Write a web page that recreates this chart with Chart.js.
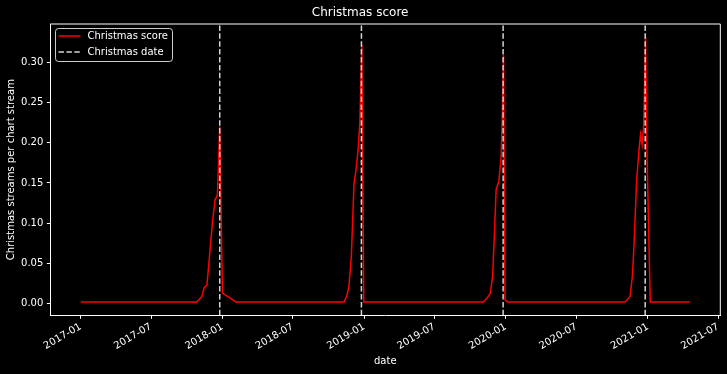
<!DOCTYPE html>
<html>
<head>
<meta charset="utf-8">
<title>Christmas score</title>
<script src="https://cdn.jsdelivr.net/npm/chart.js@4.4.0/dist/chart.umd.min.js"></script>
<style>
  html, body { margin: 0; padding: 0; background: #000; }
  #wrap { width: 727px; height: 374px; }
</style>
</head>
<body>
<div id="wrap"><canvas id="christmasChart" width="727" height="374"></canvas></div>
<script>
// Christmas score series
const scoreDates = [
    '2017-01-01', '2017-10-27', '2017-11-09', '2017-11-15', '2017-11-22', '2017-11-28',
    '2017-12-06', '2017-12-13', '2017-12-19', '2017-12-25', '2018-01-01', '2018-01-14',
    '2018-01-27', '2018-02-04',
    '2018-11-10', '2018-11-17', '2018-11-23', '2018-11-29', '2018-12-06', '2018-12-10',
    '2018-12-16', '2018-12-21', '2018-12-26', '2018-12-31',
    '2019-11-04', '2019-11-14', '2019-11-22', '2019-11-28', '2019-12-03', '2019-12-07',
    '2019-12-14', '2019-12-20', '2019-12-23', '2019-12-26', '2019-12-30', '2020-01-05',
    '2020-11-03', '2020-11-16', '2020-11-22', '2020-11-26', '2020-12-03', '2020-12-09',
    '2020-12-13', '2020-12-17', '2020-12-21', '2020-12-26', '2020-12-29', '2021-01-07',
    '2021-04-19'
];
const scoreValues = [
    0.002, 0.002, 0.009, 0.020, 0.023, 0.055,
    0.100, 0.129, 0.135, 0.220, 0.013, 0.009,
    0.005, 0.002,
    0.002, 0.009, 0.022, 0.059, 0.150, 0.162,
    0.188, 0.225, 0.322, 0.002,
    0.002, 0.007, 0.013, 0.034, 0.092, 0.142,
    0.152, 0.183, 0.237, 0.309, 0.005, 0.002,
    0.002, 0.009, 0.034, 0.071, 0.154, 0.191,
    0.210, 0.197, 0.220, 0.331, 0.201, 0.002,
    0.002
];
const christmasDates = ['2017-12-25', '2018-12-25', '2019-12-25', '2020-12-25'];
const xTickLabels = ['2017-01', '2017-07', '2018-01', '2018-07', '2019-01', '2019-07',
    '2020-01', '2020-07', '2021-01', '2021-07'];
const yTickValues = [0, 0.05, 0.10, 0.15, 0.20, 0.25, 0.30];

const toTime = (s) => {
    const p = s.split('-').map(Number);
    return Date.UTC(p[0], p[1] - 1, p[2] || 1);
};

// 5% margins on both axes, like matplotlib
const xs = scoreDates.map(toTime);
const xLo = Math.min(...xs), xHi = Math.max(...xs);
const xMin = xLo - 0.05 * (xHi - xLo);
const xMax = xHi + 0.05 * (xHi - xLo);
const yLo = Math.min(...scoreValues), yHi = Math.max(...scoreValues);
const yMin = yLo - 0.05 * (yHi - yLo);
const yMax = yHi + 0.05 * (yHi - yLo);

const scorePoints = xs.map((x, i) => ({ x: x, y: scoreValues[i] }));
// one broken line: each Christmas spans the full axis height
const christmasPoints = christmasDates.flatMap(d => [
    { x: toTime(d), y: yMin }, { x: toTime(d), y: yMax }, { x: toTime(d), y: null }
]);

Chart.defaults.font.family = '"DejaVu Sans", sans-serif';
Chart.defaults.font.size = 10;
Chart.defaults.color = '#ffffff';

// legend box inside the axes, upper left
const insideLegend = {
    id: 'insideLegend',
    afterDraw(chart) {
        const { ctx, chartArea } = chart;
        const x = Math.round(chartArea.left) + 5.5, y = Math.round(chartArea.top) + 4.5;
        const w = 117, h = 33;
        ctx.save();
        ctx.beginPath();
        ctx.roundRect(x, y, w, h, 3);
        ctx.fillStyle = 'rgba(0,0,0,0.8)';
        ctx.fill();
        ctx.strokeStyle = 'rgba(255,255,255,0.8)';
        ctx.lineWidth = 1;
        ctx.stroke();
        chart.data.datasets.forEach((ds, i) => {
            const rowY = y + 7.5 + i * 16;
            ctx.beginPath();
            ctx.setLineDash(ds.borderDash || []);
            ctx.moveTo(x + 3, rowY);
            ctx.lineTo(x + 25, rowY);
            ctx.strokeStyle = ds.borderColor;
            ctx.lineWidth = ds.borderWidth;
            ctx.stroke();
            ctx.setLineDash([]);
            ctx.fillStyle = '#ffffff';
            ctx.font = '10px "DejaVu Sans"';
            ctx.textBaseline = 'middle';
            ctx.fillText(ds.label, x + 32, rowY + 0.5);
        });
        ctx.restore();
    }
};

// top and right spines
const boxSpines = {
    id: 'boxSpines',
    afterDatasetsDraw(chart) {
        const { ctx, chartArea } = chart;
        ctx.save();
        ctx.strokeStyle = '#ffffff';
        ctx.lineWidth = 1;
        ctx.beginPath();
        ctx.moveTo(chartArea.left, chartArea.top);
        ctx.lineTo(chartArea.right, chartArea.top);
        ctx.lineTo(chartArea.right, chartArea.bottom);
        ctx.stroke();
        ctx.restore();
    }
};

const ctx = document.getElementById('christmasChart').getContext('2d');
const christmasChart = new Chart(ctx, {
    type: 'line',
    data: {
        datasets: [{
            label: 'Christmas score',
            data: scorePoints,
            borderColor: '#ff0000',
            borderWidth: 1.5,
            pointRadius: 0,
            tension: 0,
            order: 1
        }, {
            label: 'Christmas date',
            data: christmasPoints,
            borderColor: '#d3d3d3',
            borderWidth: 1.5,
            borderDash: [5.5, 2.4],
            pointRadius: 0,
            spanGaps: false,
            order: 0
        }]
    },
    options: {
        responsive: false,
        animation: false,
        devicePixelRatio: 1,
        layout: { padding: { left: 0, right: 6.7, top: 0, bottom: 0 } },
        plugins: {
            legend: { display: false },
            tooltip: { enabled: false },
            title: {
                display: true,
                text: 'Christmas score',
                color: '#ffffff',
                font: { size: 12, weight: 'normal' },
                padding: { top: 6, bottom: 3.6 }
            }
        },
        scales: {
            x: {
                type: 'linear',
                min: xMin,
                max: xMax,
                afterBuildTicks: (scale) => {
                    scale.ticks = xTickLabels.map(s => ({ value: toTime(s) }));
                },
                afterFit: (scale) => { scale.height = 58.7; },
                ticks: {
                    autoSkip: false,
                    minRotation: 30,
                    maxRotation: 30,
                    padding: 2,
                    color: '#ffffff',
                    callback: (value, index) => xTickLabels[index]
                },
                grid: { drawOnChartArea: false, drawTicks: true, tickLength: 3.5, color: '#ffffff' },
                border: { display: true, color: '#ffffff', width: 1 },
                title: { display: true, text: 'date', color: '#ffffff', padding: { top: 0, bottom: 7 } }
            },
            y: {
                type: 'linear',
                min: yMin,
                max: yMax,
                afterBuildTicks: (scale) => {
                    scale.ticks = yTickValues.map(v => ({ value: v }));
                },
                afterFit: (scale) => { scale.width = 50.3; },
                ticks: {
                    padding: 3.5,
                    color: '#ffffff',
                    callback: (value) => Number(value).toFixed(2)
                },
                grid: { drawOnChartArea: false, drawTicks: true, tickLength: 3.5, color: '#ffffff' },
                border: { display: true, color: '#ffffff', width: 1 },
                title: {
                    display: true,
                    text: 'Christmas streams per chart stream',
                    color: '#ffffff',
                    padding: { top: 5, bottom: 0 }
                }
            }
        }
    },
    plugins: [insideLegend, boxSpines]
});
</script>
</body>
</html>
